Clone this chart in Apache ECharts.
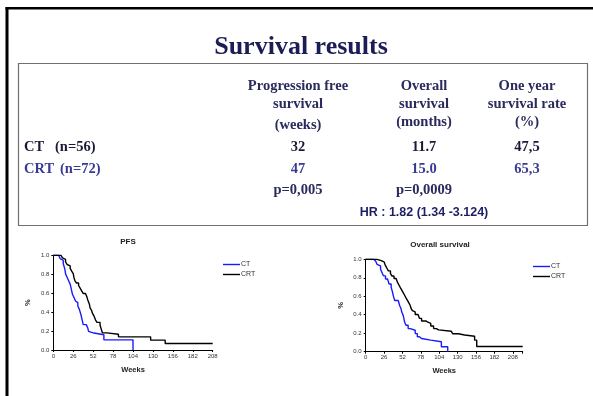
<!DOCTYPE html>
<html>
<head>
<meta charset="utf-8">
<script src="https://cdn.jsdelivr.net/npm/echarts@6/dist/echarts.min.js"></script>
<style>
html,body{margin:0;padding:0;background:#fff;}
#c{width:593px;height:396px;}
</style>
</head>
<body>
<div id="c"></div>
<script>
// ---------- data ----------
const slideTitle = 'Survival results';
const colHeaders = [
  ['Progression free', 'survival', '(weeks)'],
  ['Overall', 'survival', '(months)'],
  ['One year', 'survival rate', '(%)']
];
const rowLabels = [['CT', '(n=56)'], ['CRT', '(n=72)']];
const ctValues = ['32', '11.7', '47,5'];
const crtValues = ['47', '15.0', '65,3'];
const pValues = ['p=0,005', 'p=0,0009'];
const hrText = 'HR : 1.82 (1.34 -3.124)';

const weekTicks = [0, 26, 52, 78, 104, 130, 156, 182, 208];
const survTicks = [0, 0.2, 0.4, 0.6, 0.8, 1.0];

// Kaplan-Meier steps [week, survival]
const pfsCT = [[0,1],[7,0.982],[9,0.964],[11,0.946],[13,0.911],[15,0.857],[16,0.804],[18,0.768],[20,0.732],[22,0.696],[23,0.661],[24,0.625],[25,0.589],[27,0.554],[29,0.518],[31,0.5],[32,0.464],[34,0.429],[35,0.411],[36,0.375],[37,0.339],[38,0.304],[39,0.268],[43,0.25],[45,0.232],[46,0.196],[48,0.179],[53,0.161],[66,0.107],[104,0]];
const pfsCRT = [[0,1],[10,0.986],[12,0.972],[14,0.958],[16,0.93],[18,0.903],[20,0.889],[22,0.861],[24,0.833],[26,0.806],[27,0.764],[28,0.736],[30,0.708],[33,0.681],[35,0.653],[37,0.625],[39,0.597],[42,0.583],[44,0.556],[45,0.528],[47,0.486],[48,0.444],[50,0.417],[51,0.389],[53,0.361],[55,0.319],[57,0.292],[61,0.264],[62,0.236],[63,0.208],[64,0.181],[70,0.167],[85,0.139],[127,0.104],[146,0.069],[208,0.069]];
const osCT = [[0,1],[11,0.982],[14,0.964],[16,0.946],[18,0.929],[21,0.893],[23,0.857],[25,0.821],[28,0.786],[31,0.768],[33,0.732],[36,0.696],[38,0.643],[39,0.607],[41,0.554],[46,0.536],[48,0.5],[50,0.464],[51,0.429],[53,0.393],[54,0.357],[55,0.321],[57,0.286],[60,0.25],[63,0.232],[70,0.196],[73,0.161],[76,0.143],[79,0.125],[92,0.107],[107,0.054],[116,0]];
const osCRT = [[0,1],[16,0.986],[22,0.972],[26,0.958],[28,0.931],[30,0.903],[32,0.875],[35,0.847],[37,0.819],[40,0.792],[43,0.778],[45,0.75],[47,0.722],[49,0.694],[51,0.667],[53,0.639],[55,0.611],[57,0.583],[59,0.556],[61,0.528],[63,0.5],[64,0.472],[66,0.444],[68,0.431],[70,0.403],[74,0.389],[76,0.361],[79,0.333],[85,0.319],[88,0.306],[92,0.278],[96,0.25],[100,0.236],[103,0.222],[121,0.208],[123,0.194],[131,0.181],[140,0.167],[154,0.125],[157,0.056],[222,0.056]];

const pfsMax = 208, osMax = 222;

// ---------- chart ----------
const chart = echarts.init(document.getElementById('c'), null, {renderer: 'canvas'});
const serif = '"Liberation Serif","Times New Roman",serif';
const sans = '"Liberation Sans",Arial,sans-serif';
const navy = '#1d1d55';
const hdr = '#2a2a5c';
const ctCol = '#1a1a38';
const crtBlue = '#3a3a95';
const tf = 'bold 14.5px ' + serif;

const colX = [298, 424, 527];
const g = [];
// frame
g.push({type:'rect', shape:{x:5.5, y:7, width:590, height:2.5}, style:{fill:'#000'}});
g.push({type:'rect', shape:{x:5.5, y:7, width:3, height:392}, style:{fill:'#000'}});
// table box
g.push({type:'rect', shape:{x:18.5, y:63.5, width:569, height:162}, style:{fill:'none', stroke:'#707070', lineWidth:1.2}});
// title
g.push({type:'text', x:301, y:47.5, style:{text:slideTitle, font:'bold 26px '+serif, fill:navy, align:'center', verticalAlign:'middle'}});
const headerY = [86.5, 104.5, [125, 122.5, 122.5]];
colHeaders.forEach((lines, ci) => {
  lines.forEach((t, li) => {
    const y = li === 2 ? headerY[2][ci] : headerY[li];
    g.push({type:'text', x:colX[ci], y:y, style:{text:t, font:tf, fill:hdr, align:'center', verticalAlign:'middle'}});
  });
});
g.push({type:'text', x:24, y:147, style:{text:rowLabels[0][0], font:tf, fill:ctCol, align:'left', verticalAlign:'middle'}});
g.push({type:'text', x:55, y:147, style:{text:rowLabels[0][1], font:tf, fill:ctCol, align:'left', verticalAlign:'middle'}});
g.push({type:'text', x:24, y:169, style:{text:rowLabels[1][0], font:tf, fill:crtBlue, align:'left', verticalAlign:'middle'}});
g.push({type:'text', x:60, y:169, style:{text:rowLabels[1][1], font:tf, fill:crtBlue, align:'left', verticalAlign:'middle'}});
ctValues.forEach((v, i) => g.push({type:'text', x:colX[i], y:147, style:{text:v, font:tf, fill:ctCol, align:'center', verticalAlign:'middle'}}));
crtValues.forEach((v, i) => g.push({type:'text', x:colX[i], y:169, style:{text:v, font:tf, fill:crtBlue, align:'center', verticalAlign:'middle'}}));
pValues.forEach((v, i) => g.push({type:'text', x:colX[i], y:190.5, style:{text:v, font:tf, fill:hdr, align:'center', verticalAlign:'middle'}}));
g.push({type:'text', x:424, y:213, style:{text:hrText, font:'bold 12.5px '+sans, fill:'#1e1e66', align:'center', verticalAlign:'middle'}});
// chart titles
g.push({type:'text', x:128, y:241.5, style:{text:'PFS', font:'bold 8px '+sans, fill:'#222', align:'center', verticalAlign:'middle'}});
g.push({type:'text', x:440, y:245, style:{text:'Overall survival', font:'bold 8px '+sans, fill:'#222', align:'center', verticalAlign:'middle'}});

function xAxisCfg(idx, max) {
  return {
    type:'value', gridIndex:idx, min:0, max:max, interval:26,
    name:'Weeks', nameLocation:'middle', nameGap:15.5,
    nameTextStyle:{fontFamily:sans, fontWeight:'bold', fontSize:7.5, color:'#222'},
    axisLine:{lineStyle:{color:'#000', width:1}},
    axisTick:{show:true, length:2, lineStyle:{color:'#000'}},
    axisLabel:{fontFamily:sans, fontSize:6, color:'#333', margin:3,
      formatter: v => weekTicks.indexOf(v) >= 0 ? String(v) : ''},
    splitLine:{show:false}
  };
}
function yAxisCfg(idx) {
  return {
    type:'value', gridIndex:idx, min:0, max:1, interval:0.2,
    name:'%', nameLocation:'middle', nameGap:21, nameRotate:90,
    nameTextStyle:{fontFamily:sans, fontWeight:'bold', fontSize:7.5, color:'#222'},
    axisLine:{show:true, lineStyle:{color:'#000', width:1}},
    axisTick:{show:true, length:2, lineStyle:{color:'#000'}},
    axisLabel:{fontFamily:sans, fontSize:6, color:'#333', margin:4,
      formatter: v => survTicks.some(t => Math.abs(t - v) < 1e-9) ? v.toFixed(1) : ''},
    splitLine:{show:false}
  };
}
function kmSeries(name, data, xi, color) {
  return {
    type:'line', name:name, xAxisIndex:xi, yAxisIndex:xi, data:data, step:'end',
    symbol:'none', showSymbol:false, animation:false, silent:true,
    lineStyle:{color:color, width:1.4}, itemStyle:{color:color}
  };
}

const legendCommon = {
  orient:'vertical', icon:'rect', itemWidth:17, itemHeight:1.4, itemGap:3, padding:0,
  textStyle:{fontFamily:sans, fontSize:7, color:'#333', padding:[0,0,0,-4]},
  selectedMode:false, data:['CT','CRT']
};

chart.setOption({
  backgroundColor:'#fff',
  animation:false,
  graphic:g,
  grid:[
    {left:53.3, top:255.3, width:159.4, height:94.7},
    {left:365.7, top:259.3, width:157, height:92.4}
  ],
  xAxis:[xAxisCfg(0, pfsMax), xAxisCfg(1, osMax)],
  yAxis:[yAxisCfg(0), yAxisCfg(1)],
  legend:[
    Object.assign({left:223, top:261}, legendCommon),
    Object.assign({left:533, top:263}, legendCommon)
  ],
  series:[
    kmSeries('CT', pfsCT, 0, '#1a1aff'),
    kmSeries('CRT', pfsCRT, 0, '#000'),
    kmSeries('CT', osCT, 1, '#1a1aff'),
    kmSeries('CRT', osCRT, 1, '#000')
  ]
});
</script>
</body>
</html>
